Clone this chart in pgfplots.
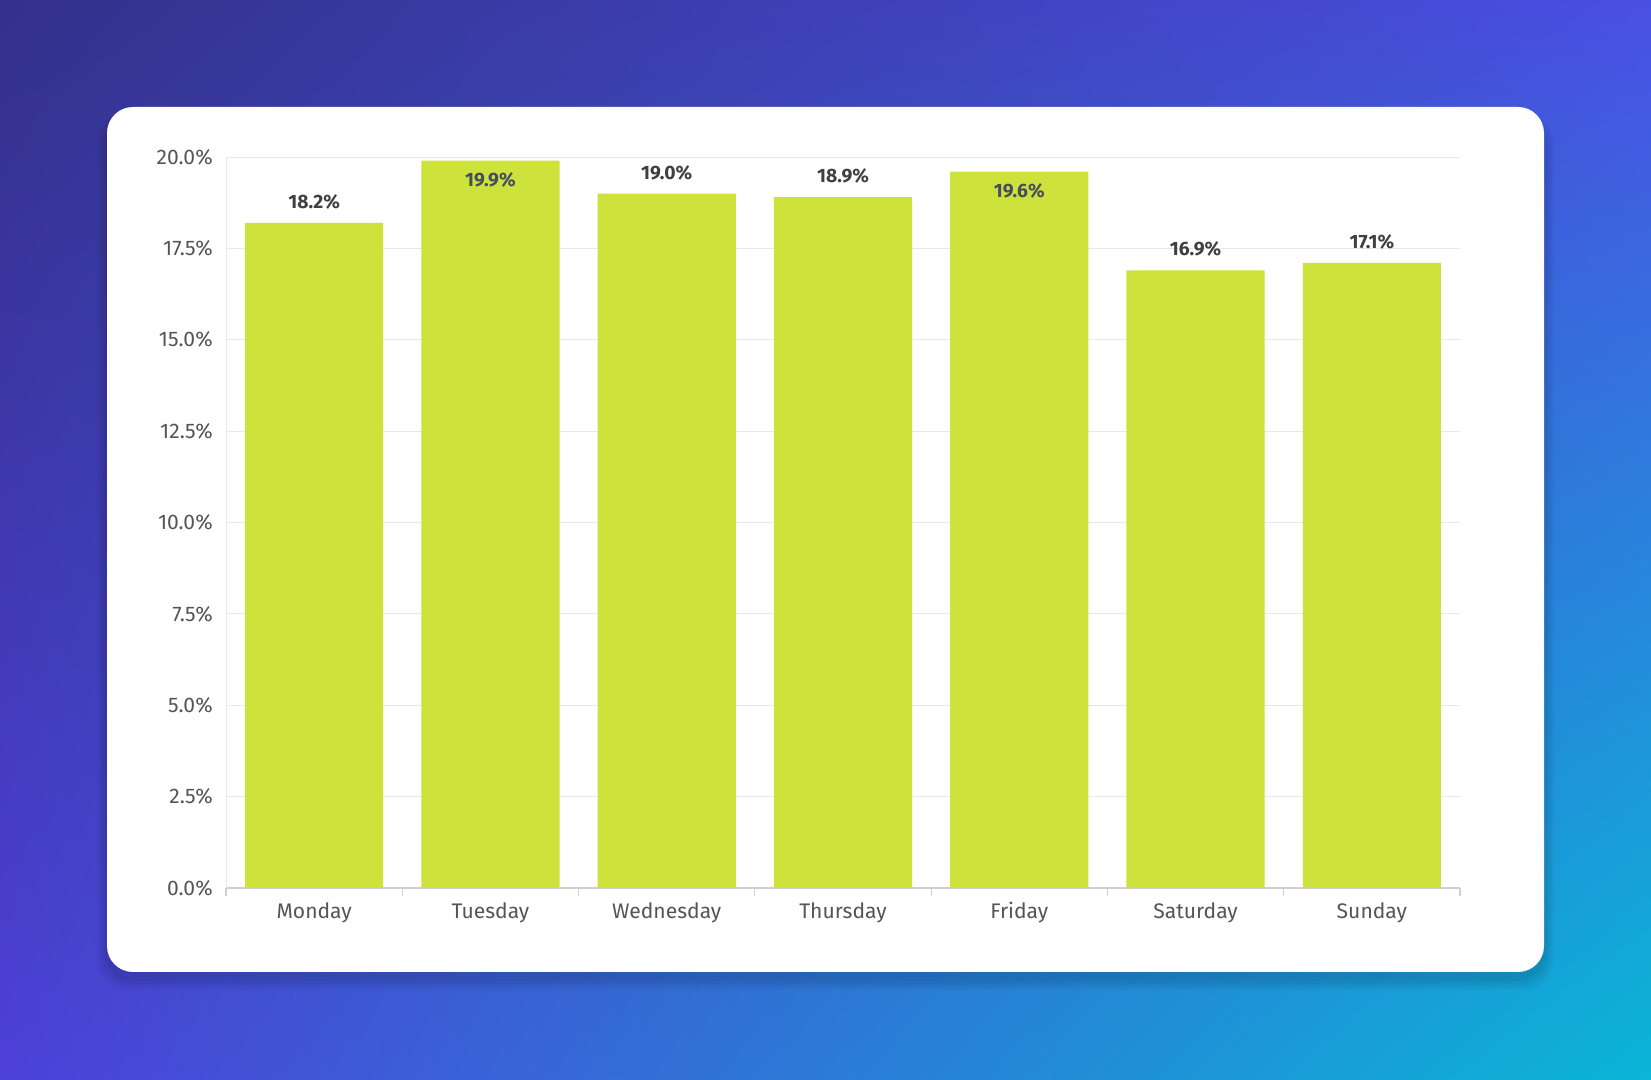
\documentclass[border=0pt]{standalone}
\usepackage{pgfplots}
\usepackage{pgfplotstable}
\pgfplotsset{compat=1.18}
\usetikzlibrary{shadings}
\usepackage{fontspec}
\setmainfont{Fira Sans}

\definecolor{barc}{HTML}{CDE23B}
\definecolor{ticktext}{HTML}{555555}
\definecolor{labout}{HTML}{404040}
\definecolor{labin}{HTML}{474D5E}
\definecolor{gridc}{HTML}{E8E8E8}
\definecolor{axisc}{HTML}{CFCFCF}
\definecolor{bgUL}{HTML}{33318A}
\definecolor{bgUR}{HTML}{4A4FE3}
\definecolor{bgLL}{HTML}{4D40D8}
\definecolor{bgLR}{HTML}{0AB6D7}

% share of the week, labels sit above the bar
\pgfplotstableread{
x val
0 18.2
2 19.0
3 18.9
5 16.9
6 17.1
}\outside

% the two tallest bars carry their label inside
\pgfplotstableread{
x val
1 19.9
4 19.6
}\inside

\begin{document}
\begin{tikzpicture}

% backdrop and card
\shade[upper left=bgUL, upper right=bgUR, lower left=bgLL, lower right=bgLR]
  (0,0) rectangle (330.2mm,216mm);
\foreach \i in {1,...,4}
  \fill[black, opacity=0.035, rounded corners=6mm]
    ({21.4mm-\i*0.5mm},{20.4mm-\i*0.6mm}) rectangle ({308.8mm+\i*0.5mm},{192mm+\i*0.3mm});
\fill[white, rounded corners=5.2mm] (21.4mm,21.6mm) rectangle (308.8mm,194.6mm);

\begin{axis}[
  at = {(45.2mm,38.4mm)},
  anchor = south west,
  width = 246.8mm,
  height = 146.2mm,
  scale only axis,
  ybar,
  bar shift = 0pt,
  bar width = 0.784,
  xmin = -0.5, xmax = 6.5,
  ymin = 0, ymax = 20,
  xtick = {0,...,6},
  xticklabels = {Monday,Tuesday,Wednesday,Thursday,Friday,Saturday,Sunday},
  minor xtick = {-0.5,0.5,...,6.5},
  ytick = {0,2.5,...,20},
  yticklabel = {\pgfmathprintnumber[fixed,fixed zerofill,precision=1]{\tick}\%},
  /pgf/number format/assume math mode = true,
  axis x line* = bottom,
  axis y line* = left,
  axis line style = {-},
  x axis line style = {draw=axisc, line width=0.6pt},
  y axis line style = {draw=gridc, line width=0.5pt},
  ymajorgrids,
  grid style = {draw=gridc, line width=0.5pt},
  tick align = outside,
  major tick length = 0pt,
  minor tick length = 1.7mm,
  minor tick style = {draw=axisc, line width=0.6pt},
  major tick style = {draw=none},
  tick label style = {font=\fontsize{12}{14}\selectfont, text=ticktext},
  yticklabel style = {anchor=east, inner sep=0pt, xshift=-2.6mm},
  xticklabel style = {anchor=north, inner sep=0pt, yshift=-2.8mm},
]

\addplot[
  fill = barc, draw = none,
  nodes near coords = {\pgfmathprintnumber[fixed,fixed zerofill,precision=1]{\pgfplotspointmeta}\%},
  nodes near coords style = {font=\bfseries\fontsize{11}{13}\selectfont, text=labout, anchor=center, yshift=4.2mm},
] table [x=x, y=val] {\outside};

\addplot[
  fill = barc, draw = none,
  nodes near coords = {\pgfmathprintnumber[fixed,fixed zerofill,precision=1]{\pgfplotspointmeta}\%},
  nodes near coords style = {font=\bfseries\fontsize{11}{13}\selectfont, text=labin, anchor=center, yshift=-3.8mm},
] table [x=x, y=val] {\inside};

\end{axis}
\end{tikzpicture}
\end{document}
